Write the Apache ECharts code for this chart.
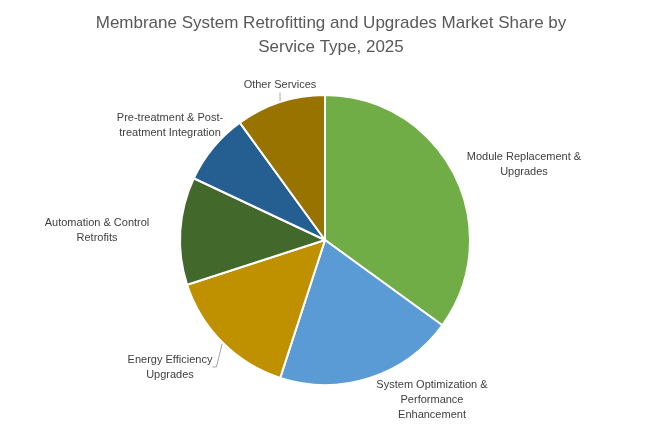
<!DOCTYPE html>
<html>
<head>
<meta charset="utf-8">
<script src="https://cdn.jsdelivr.net/npm/echarts@6/dist/echarts.min.js"></script>
<style>
  html, body { margin: 0; padding: 0; background: #fff; }
  #chart { width: 649px; height: 424px; }
</style>
</head>
<body>
<div id="chart"></div>
<script>
// Service categories, clockwise from 12 o'clock
const categories = [
  'Module Replacement &\nUpgrades',
  'System Optimization &\nPerformance\nEnhancement',
  'Energy Efficiency\nUpgrades',
  'Automation & Control\nRetrofits',
  'Pre-treatment & Post-\ntreatment Integration',
  'Other Services'
];
// Market share (%) per service type, 2025
const shares = [35, 20, 15, 12, 8, 10];
const colors = ['#70AD47', '#5B9BD5', '#BF9000', '#43682B', '#255E91', '#997300'];

// Label anchor points (pixel centres) for each slice's text
const labelAnchors = [
  [524, 164], [432, 400], [170, 367], [97, 230], [170, 125], [280, 85]
];
const showLine = [false, false, true, false, false, true];

const chart = echarts.init(document.getElementById('chart'));
chart.setOption({
  backgroundColor: '#ffffff',
  title: {
    text: 'Membrane System Retrofitting and Upgrades Market Share by\nService Type, 2025',
    left: 326,
    top: 6,
    textAlign: 'center',
    padding: 5,
    textStyle: {
      fontFamily: 'Liberation Sans',
      fontSize: 17,
      fontWeight: 'normal',
      color: '#595959',
      lineHeight: 24
    }
  },
  series: [{
    type: 'pie',
    center: [325, 240],
    radius: [0, 145],
    startAngle: 90,
    clockwise: true,
    animation: false,
    itemStyle: { borderColor: '#ffffff', borderWidth: 2 },
    label: {
      show: true,
      position: 'outside',
      fontFamily: 'Liberation Sans',
      fontSize: 11,
      color: '#404040',
      lineHeight: 15,
      align: 'center'
    },
    labelLine: {
      show: true,
      length: 4,
      length2: 4,
      lineStyle: { color: '#A6A6A6', width: 1 }
    },
    labelLayout: function (p) {
      const a = labelAnchors[p.dataIndex];
      return { x: a[0], y: a[1], align: 'center', verticalAlign: 'middle' };
    },
    data: categories.map((name, i) => ({
      name: name,
      value: shares[i],
      itemStyle: { color: colors[i] },
      labelLine: { show: showLine[i] }
    }))
  }]
});
</script>
</body>
</html>
